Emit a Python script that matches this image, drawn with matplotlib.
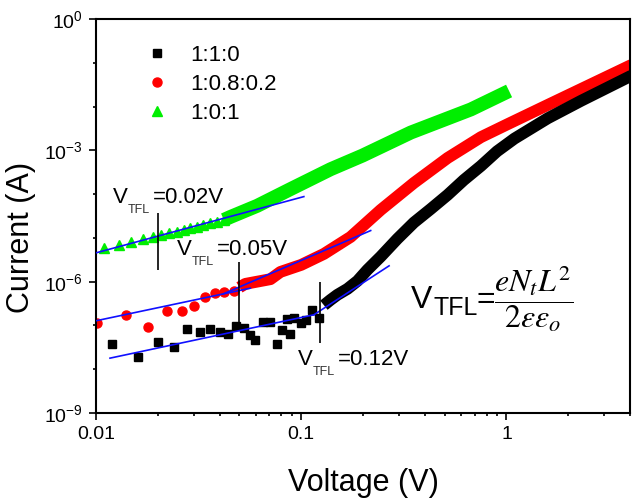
import numpy as np
import matplotlib
matplotlib.use('Agg')
import matplotlib.pyplot as plt
from matplotlib.ticker import LogLocator, NullFormatter

plt.rcParams['font.family'] = ['Liberation Sans', 'DejaVu Sans']
plt.rcParams['mathtext.fontset'] = 'custom'
plt.rcParams['mathtext.rm'] = 'Liberation Sans'

# --- data (V in volts, I in amps) ---
labels = ['1:1:0', '1:0.8:0.2', '1:0:1']

# 1:1:0  (black squares)
black_v_pts = [0.0119, 0.0160, 0.0200, 0.0240, 0.0279, 0.0320, 0.0358, 0.0400,
               0.0440, 0.0481, 0.0524, 0.0565, 0.0598, 0.0649, 0.0708, 0.0763,
               0.0807, 0.0854, 0.0880, 0.0920, 0.1000, 0.105, 0.1132, 0.1219]
black_i_pts = [3.74e-8, 1.95e-8, 4.16e-8, 3.30e-8, 8.24e-8, 7.04e-8, 8.36e-8, 7.26e-8,
               6.33e-8, 9.95e-8, 8.96e-8, 6.1e-8, 4.69e-8, 1.23e-7, 1.23e-7, 3.8e-8,
               7.94e-8, 1.39e-7, 6.33e-8, 1.47e-7, 1.16e-7, 1.34e-7, 2.27e-7, 1.47e-7]
black_v_band = [0.129, 0.139, 0.150, 0.168, 0.188, 0.210, 0.244, 0.294, 0.354,
                0.428, 0.517, 0.62, 0.751, 0.9, 1.093, 1.59, 2.315, 4.06]
black_i_band = [2.9e-7, 3.84e-7, 5.0e-7, 6.85e-7, 1.04e-6, 1.86e-6, 3.74e-6, 9.5e-6,
                2.24e-5, 4.59e-5, 9.6e-5, 2.1e-4, 4.4e-4, 9.5e-4, 1.85e-3, 5.4e-3,
                1.36e-2, 5.07e-2]

# 1:0.8:0.2  (red circles)
red_v_pts = [0.0101, 0.0140, 0.0180, 0.0221, 0.0262, 0.0301, 0.0341, 0.0381, 0.0419, 0.0469]
red_i_pts = [1.13e-7, 1.75e-7, 9.1e-8, 2.15e-7, 2.15e-7, 2.85e-7, 4.57e-7, 5.46e-7,
             5.94e-7, 6.26e-7]
red_v_band = [0.0500, 0.0534, 0.0708, 0.0792, 0.100, 0.129, 0.174, 0.244, 0.354,
              0.517, 0.751, 1.007, 1.59, 4.06]
red_i_band = [7.4e-7, 8.9e-7, 1.14e-6, 1.67e-6, 2.42e-6, 4.31e-6, 1.05e-5, 4.36e-5,
              1.80e-4, 6.7e-4, 2.0e-3, 3.9e-3, 1.09e-2, 8.9e-2]

# 1:0:1  (green triangles)
green_v_pts = [0.0110, 0.0130, 0.0148, 0.0170, 0.0190, 0.0208, 0.0227, 0.0248,
               0.0267, 0.0288, 0.0310, 0.0334, 0.0360, 0.0389, 0.0419]
green_i_pts = [6.0e-6, 6.9e-6, 8.2e-6, 9.5e-6, 1.07e-5, 1.17e-5, 1.32e-5, 1.39e-5,
               1.52e-5, 1.66e-5, 1.81e-5, 1.98e-5, 2.17e-5, 2.36e-5, 2.58e-5]
green_v_band = [0.042, 0.0451, 0.061, 0.0886, 0.139, 0.199, 0.342, 0.671, 1.03]
green_i_band = [2.58e-5, 3.0e-5, 5.4e-5, 1.30e-4, 3.7e-4, 7.6e-4, 2.55e-3, 8.6e-3, 2.27e-2]

# linear fits (blue)
fit_v = [[0.01, 0.103], [0.0101, 0.0565], [0.0417, 0.218], [0.0117, 0.1152], [0.1152, 0.268]]
fit_i = [[4.55e-6, 8.77e-5], [1.29e-7, 7.1e-7], [5.26e-7, 1.47e-5],
         [1.79e-8, 1.75e-7], [1.75e-7, 2.3e-6]]

# V_TFL markers
vtfl_v = [0.02, 0.05, 0.123]
vtfl_top = [3.78e-5, 2.88e-6, 1.0e-6]
vtfl_bot = [1.86e-6, 9.4e-8, 4.07e-8]
vtfl_text = ['=0.02V', '=0.05V', '=0.12V']

x_ticks = [0.01, 0.1, 1]
x_ticklabels = ['0.01', '0.1', '1']
y_ticks = [1e-9, 1e-6, 1e-3, 1]
y_ticklabels = [r'$\mathregular{10^{-9}}$', r'$\mathregular{10^{-6}}$',
                r'$\mathregular{10^{-3}}$', r'$\mathregular{10^{0}}$']

W, H = 638, 503
def fx(px):
    return px / W
def fy(py):
    return 1 - py / H

fig = plt.figure(figsize=(W / 100, H / 100), dpi=100)
ax = fig.add_axes([fx(96), fy(413), (630 - 96) / W, (413 - 19) / H])

GREEN = '#00ee00'
RED = '#ff0000'
band = dict(solid_capstyle='butt', solid_joinstyle='round')

ax.plot(black_v_band, black_i_band, color='k', lw=8.5, zorder=3, **band)
h1, = ax.plot(black_v_pts, black_i_pts, 's', color='k', ms=5.5, ls='none', zorder=3)
ax.plot(red_v_band, red_i_band, color=RED, lw=8.5, zorder=2, **band)
h2, = ax.plot(red_v_pts, red_i_pts, 'o', color=RED, ms=6.5, ls='none', zorder=2)
ax.plot(green_v_band, green_i_band, color=GREEN, lw=10, zorder=1, **band)
h3, = ax.plot(green_v_pts, green_i_pts, '^', color=GREEN, ms=7, ls='none', zorder=1)

for v, i in zip(fit_v, fit_i):
    ax.plot(v, i, color='#1010ff', lw=1.2, zorder=4)
ax.vlines(vtfl_v, vtfl_bot, vtfl_top, color='k', lw=1.2, zorder=5)

ax.set_xscale('log')
ax.set_yscale('log')
ax.set_xlim(0.01, 4)
ax.set_ylim(1e-9, 1)
ax.set_xticks(x_ticks)
ax.set_xticklabels(x_ticklabels)
ax.set_yticks(y_ticks)
ax.set_yticklabels(y_ticklabels)
ax.xaxis.set_minor_locator(LogLocator(base=10, subs=np.arange(2, 10), numticks=20))
ax.yaxis.set_minor_locator(LogLocator(base=10, subs=(1.0,), numticks=20))
ax.xaxis.set_minor_formatter(NullFormatter())
ax.yaxis.set_minor_formatter(NullFormatter())
ax.tick_params(which='both', direction='out', top=False, right=False, width=1.2)
ax.tick_params(which='major', length=5, labelsize=14, pad=4.5)
ax.tick_params(which='minor', length=2.5)
for s in ax.spines.values():
    s.set_linewidth(1.5)

ax.legend(handles=[h1, h2, h3], labels=labels, loc='upper left',
          bbox_to_anchor=(fx(146), fy(45)), bbox_transform=fig.transFigure,
          frameon=False, fontsize=16, handlelength=1.0, handletextpad=1.0,
          labelspacing=0.35, borderpad=0, borderaxespad=0, numpoints=1)

# V_TFL labels
def vtfl_label(x, y, rest):
    fig.text(fx(x), fy(y), 'V', fontsize=16, va='baseline')
    fig.text(fx(x + 15), fy(y + 10), 'TFL', fontsize=9, va='baseline', color='#333333')
    fig.text(fx(x + 40), fy(y), rest, fontsize=16, va='baseline')

vtfl_label(113, 203, vtfl_text[0])
vtfl_label(177, 255, vtfl_text[1])
vtfl_label(298, 365, vtfl_text[2])

# formula
fig.text(fx(411), fy(308), 'V', fontsize=23, va='baseline')
fig.text(fx(433), fy(315), 'TFL', fontsize=18, va='baseline')
fig.text(fx(476), fy(308), '=', fontsize=23, va='baseline')
fig.text(fx(494), fy(299), r'$\dfrac{eN_tL^2}{2\varepsilon\varepsilon_o}$', fontsize=23,
         va='center', ha='left', math_fontfamily='stix')

fig.text(fx(363), fy(483), 'Voltage (V)', fontsize=22, ha='center', va='center')
fig.text(fx(21), fy(237), 'Current (A)', fontsize=22, rotation=90, ha='center', va='center')

fig.savefig('out.png', dpi=100)
